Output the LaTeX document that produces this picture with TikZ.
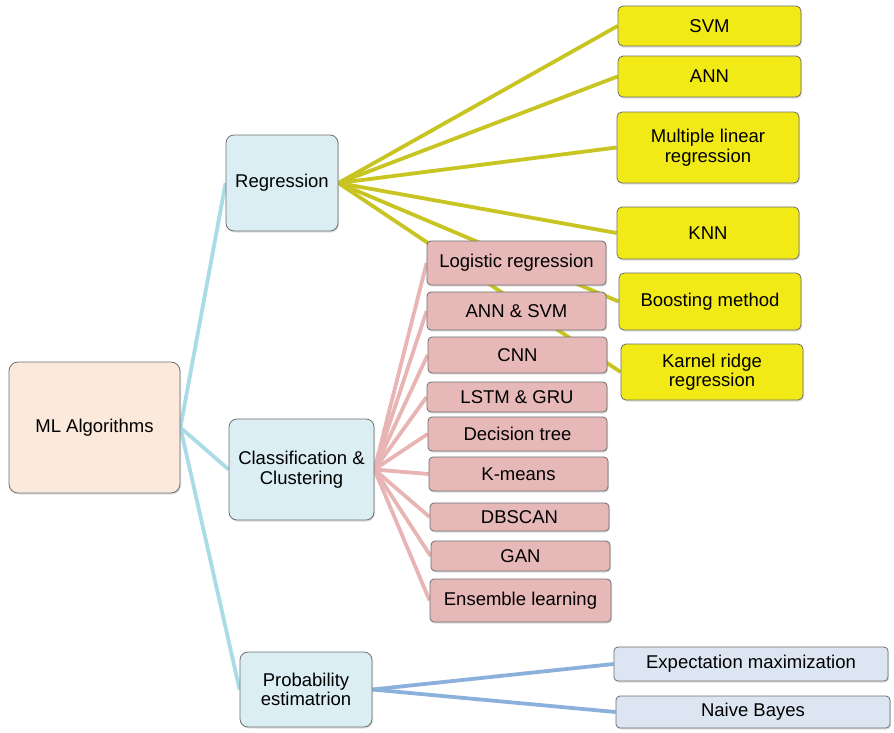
\documentclass[tikz,border=0pt]{standalone}
\usepackage{fontspec}
\setmainfont{Liberation Sans}
\usetikzlibrary{backgrounds,shadows}

\definecolor{peachfill}{RGB}{251,233,219}
\definecolor{catfill}{RGB}{218,238,243}
\definecolor{yelfill}{RGB}{242,234,22}
\definecolor{pinkfill}{RGB}{230,185,184}
\definecolor{probfill}{RGB}{220,230,242}
\definecolor{boxline}{RGB}{110,110,110}
\definecolor{rootline}{RGB}{170,220,232}
\definecolor{regline}{RGB}{200,196,34}
\definecolor{clsline}{RGB}{232,180,180}
\definecolor{probline}{RGB}{140,176,220}

\tikzset{
  base/.style={rectangle, draw=boxline, line width=0.8pt, inner sep=0pt,
    align=center, font=\fontsize{18.5}{19.5}\selectfont,
    drop shadow={opacity=0.25, shadow xshift=1pt, shadow yshift=-1.5pt}},
  rootbox/.style={base, fill=peachfill, rounded corners=9pt},
  catbox/.style={base, fill=catfill, rounded corners=8pt},
  yelbox/.style={base, fill=yelfill, rounded corners=5pt},
  pinkbox/.style={base, fill=pinkfill, rounded corners=4pt},
  probbox/.style={base, fill=probfill, rounded corners=4pt},
  link/.style={line width=3.8pt},
}

\begin{document}
\begin{tikzpicture}[x=1pt, y=-1pt]
\useasboundingbox (0,0) rectangle (894,732);

% root and categories
\node[rootbox, minimum width=171pt, minimum height=131pt] (ml) at (94.5,427.5) {ML Algorithms};
\node[catbox, minimum width=112pt, minimum height=96pt] (reg) at (282,183) {Regression};
\node[catbox, minimum width=145pt, minimum height=101pt] (cls) at (301.5,469.5) {Classification \&\\Clustering};
\node[catbox, minimum width=132pt, minimum height=75pt] (prob) at (306,689.5) {Probability\\estimatrion};

% regression methods
\node[yelbox, minimum width=183pt, minimum height=40pt] (svm) at (709.5,26) {SVM};
\node[yelbox, minimum width=183pt, minimum height=41pt] (ann) at (709.5,76.5) {ANN};
\node[yelbox, minimum width=182pt, minimum height=71pt] (mlr) at (708,147.5) {Multiple linear\\regression};
\node[yelbox, minimum width=182pt, minimum height=52pt] (knn) at (708,233) {KNN};
\node[yelbox, minimum width=182pt, minimum height=57pt] (boost) at (710,301.5) {Boosting method};
\node[yelbox, minimum width=182pt, minimum height=56pt] (krr) at (712,372) {Karnel ridge\\regression};

% classification and clustering methods
\node[pinkbox, minimum width=179pt, minimum height=44pt] (logr) at (516.5,263) {Logistic regression};
\node[pinkbox, minimum width=179pt, minimum height=38pt] (annsvm) at (516.5,311) {ANN \& SVM};
\node[pinkbox, minimum width=179pt, minimum height=36pt] (cnn) at (517.5,355) {CNN};
\node[pinkbox, minimum width=180pt, minimum height=30pt] (lstm) at (517,397) {LSTM \& GRU};
\node[pinkbox, minimum width=179pt, minimum height=34pt] (dt) at (517.5,434) {Decision tree};
\node[pinkbox, minimum width=179pt, minimum height=34pt] (km) at (518.5,474) {K-means};
\node[pinkbox, minimum width=179pt, minimum height=28pt] (db) at (519.5,517) {DBSCAN};
\node[pinkbox, minimum width=179pt, minimum height=30pt] (gan) at (520.5,556) {GAN};
\node[pinkbox, minimum width=181pt, minimum height=43pt] (ens) at (520.5,600.5) {Ensemble learning};

% probability estimation methods
\node[probbox, minimum width=274pt, minimum height=34pt] (em) at (751,664) {Expectation maximization};
\node[probbox, minimum width=274pt, minimum height=32pt] (nb) at (753,712) {Naive Bayes};

% connectors, kept behind the boxes
\begin{pgfonlayer}{background}
  \foreach \t in {reg,cls,prob}
    \draw[link, rootline] (ml.east) -- (\t.west);
  \foreach \t in {svm,ann,mlr,knn,boost,krr}
    \draw[link, regline] (reg.east) -- (\t.west);
  \foreach \t in {logr,annsvm,cnn,lstm,dt,km,db,gan,ens}
    \draw[link, clsline] (cls.east) -- (\t.west);
  \foreach \t in {em,nb}
    \draw[link, probline] (prob.east) -- (\t.west);
\end{pgfonlayer}
\end{tikzpicture}
\end{document}
